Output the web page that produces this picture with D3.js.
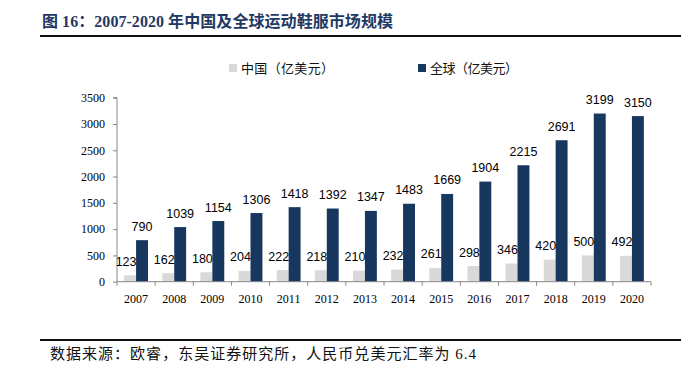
<!DOCTYPE html>
<html><head><meta charset="utf-8">
<script src="https://cdn.jsdelivr.net/npm/d3@7"></script>
<style>
html,body{margin:0;padding:0;background:#fff;}
svg{display:block;}
</style></head>
<body>
<svg id="c" width="695" height="372"></svg>
<script>
const years = ["2007","2008","2009","2010","2011","2012","2013","2014","2015","2016","2017","2018","2019","2020"];
const chinaValues = [123,162,180,204,222,218,210,232,261,298,346,420,500,492];
const globalValues = [790,1039,1154,1306,1418,1392,1347,1483,1669,1904,2215,2691,3199,3150];
const seriesNames = ["中国（亿美元）","全球（亿美元）"];
const yTicks = [0,500,1000,1500,2000,2500,3000,3500];
const titleText = "图 16：2007-2020 年中国及全球运动鞋服市场规模";
const sourceText = "数据来源：欧睿，东吴证券研究所，人民币兑美元汇率为 6.4";

const colors = ["#D9D9D9","#17375E"];
const svg = d3.select("#c");
const serif = "'Times New Roman','Liberation Serif','Noto Sans CJK SC',serif";
const cjk = "'Noto Sans CJK SC','Liberation Serif',serif";
const sans = "Arial,'Liberation Sans',sans-serif";

// title
svg.append("text").attr("x",42).attr("y",27)
  .attr("font-family","'Liberation Serif','Noto Sans CJK SC',serif")
  .attr("font-weight","bold").attr("font-size",16).attr("fill","#1F3864")
  .attr("textLength",351).attr("lengthAdjust","spacing")
  .text(titleText);
svg.append("line").attr("x1",40).attr("x2",681).attr("y1",36).attr("y2",36)
  .attr("stroke","#111").attr("stroke-width",2);

// footer
svg.append("line").attr("x1",40).attr("x2",681).attr("y1",340).attr("y2",340)
  .attr("stroke","#111").attr("stroke-width",2);
svg.append("text").attr("x",50).attr("y",359)
  .attr("font-family","'Liberation Serif','Noto Sans CJK SC',serif")
  .attr("font-size",15).attr("fill","#111")
  .attr("textLength",426).attr("lengthAdjust","spacing")
  .text(sourceText);

// scales
const x = d3.scaleBand().domain(years).range([117,651]).paddingInner(0).paddingOuter(0);
const x1 = d3.scaleBand().domain([0,1]).range([0,x.bandwidth()]).paddingInner(0).paddingOuter(0.6);
const y = d3.scaleLinear().domain([0,3500]).range([281.7,97.7]);

// y axis
const yAxis = svg.append("g").attr("transform","translate(117,0)")
  .call(d3.axisLeft(y).tickValues(yTicks).tickSize(4).tickPadding(8).tickFormat(d3.format("d")));
yAxis.select(".domain").attr("stroke","#888").attr("d","M-4,"+y(3500)+"H0V"+y(0));
yAxis.selectAll(".tick line").attr("stroke","#888");
yAxis.selectAll(".tick text").attr("font-family",serif).attr("font-size",12).attr("fill","#000");

// bars
const data = years.map((yr,i)=>({yr, vals:[chinaValues[i],globalValues[i]]}));
const g = svg.append("g");
data.forEach(d=>{
  d.vals.forEach((v,k)=>{
    g.append("rect")
      .attr("x",x(d.yr)+x1(k))
      .attr("width",x1.bandwidth())
      .attr("y",y(v))
      .attr("height",y(0)-y(v))
      .attr("fill",colors[k]);
  });
});

// x axis
const xAxis = svg.append("g").attr("transform","translate(0,"+y(0)+")")
  .call(d3.axisBottom(x).tickSize(0).tickPadding(13));
xAxis.select(".domain").attr("stroke","#888").attr("d","M117,0H651");
xAxis.selectAll(".tick text").attr("font-family",serif).attr("font-size",12).attr("fill","#000");
const bounds = years.map(yv=>x(yv)).concat([x(years[years.length-1])+x.bandwidth()]);
xAxis.selectAll(".bnd").data(bounds).enter().append("line")
  .attr("x1",d=>d).attr("x2",d=>d).attr("y1",0).attr("y2",4).attr("stroke","#888");

// labels
data.forEach(d=>{
  d.vals.forEach((v,k)=>{
    g.append("text")
      .attr("x",x(d.yr)+x1(k)+x1.bandwidth()/2 + (k===0?-4:0))
      .attr("y",y(v)-9.5)
      .attr("text-anchor","middle")
      .attr("font-family",sans).attr("font-size",12.5).attr("fill","#000")
      .text(v);
  });
});

// legend
const legX = [229,418];
const legW = [93,88];
seriesNames.forEach((n,k)=>{
  svg.append("rect").attr("x",legX[k]).attr("y",64).attr("width",8).attr("height",8).attr("fill",colors[k]);
  svg.append("text").attr("x",legX[k]+12).attr("y",73)
    .attr("font-family",cjk).attr("font-size",13).attr("fill","#111")
    .attr("textLength",legW[k]).attr("lengthAdjust","spacing")
    .text(n);
});
</script>
</body></html>
